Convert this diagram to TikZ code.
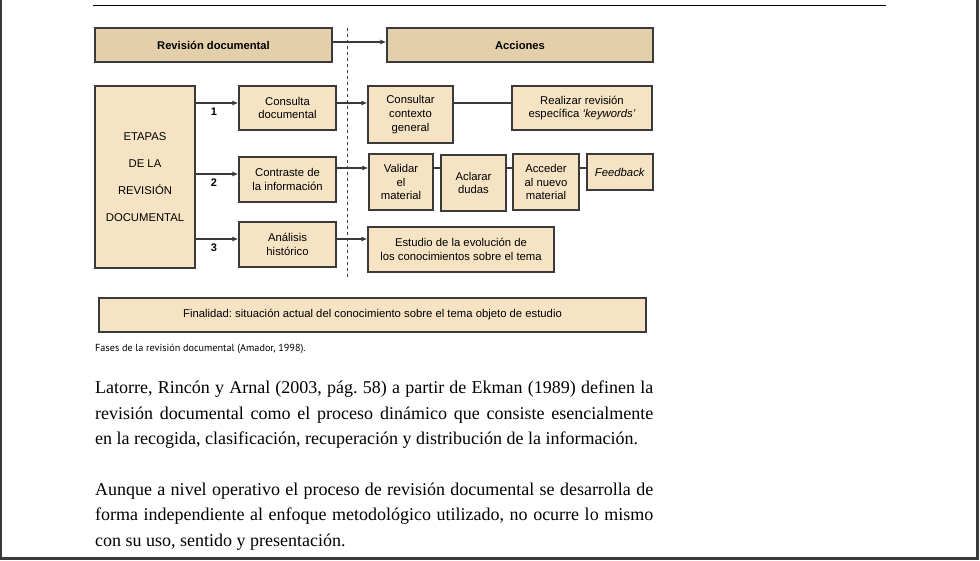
\documentclass[tikz,border=0pt]{standalone}
\usepackage{fontspec}
\setmainfont{Liberation Serif}
\newfontfamily\diagfont{Liberation Sans}
\newfontfamily\capfont{PT Sans}
\usetikzlibrary{arrows.meta}
\frenchspacing

\definecolor{borde}{HTML}{3A3A3A}
\definecolor{fondocab}{HTML}{E3CFA9}
\definecolor{fondocaja}{HTML}{F5E3C3}

\tikzset{
  caja/.style={draw=borde, line width=1.2pt, fill=fondocaja, inner sep=0pt, align=center,
    font=\diagfont\fontsize{11.3}{13.6}\selectfont},
  cabecera/.style={caja, fill=fondocab, font=\diagfont\bfseries\fontsize{11.2}{13.6}\selectfont},
  flecha/.style={draw=borde, line width=1.2pt, -{Latex[length=6pt,width=5pt]}},
  linea/.style={draw=borde, line width=1.2pt},
  numero/.style={font=\diagfont\bfseries\fontsize{11}{12}\selectfont},
  parrafo/.style={anchor=base west, inner sep=0pt, font=\fontsize{18}{20}\selectfont}
}

\begin{document}
\begin{tikzpicture}[x=1pt, y=-1pt]
\useasboundingbox (0,0) rectangle (980,560);
\fill[white] (0,0) rectangle (980,560);
% marco de la pagina
\draw[borde, line width=2.5pt] (1,0) -- (1,558.5) -- (977.5,558.5) -- (977.5,0);
\draw[line width=1pt] (93,5) -- (886,5);

% cabeceras
\node[cabecera, minimum width=237pt, minimum height=34pt] (rev) at (213.5,45) {Revisión documental};
\node[cabecera, minimum width=266pt, minimum height=34pt] (acc) at (520,45) {Acciones};
\draw[flecha] ([yshift=3pt]rev.east) -- ([yshift=3pt]acc.west);
\draw[borde, line width=1pt, dashed] (347,28) -- (347,277);

% etapas
\node[caja, minimum width=100pt, minimum height=182pt, font=\diagfont\fontsize{11.3}{27}\selectfont] (etapas) at (145,177)
  {ETAPAS\\DE LA\\REVISIÓN\\DOCUMENTAL};
\node[caja, minimum width=97pt, minimum height=44pt] (consulta) at (287.5,108) {Consulta\\documental};
\node[caja, minimum width=97pt, minimum height=45pt] (contraste) at (287.5,179.5) {Contraste de\\la información};
\node[caja, minimum width=97pt, minimum height=45pt] (analisis) at (287.5,244.5) {Análisis\\histórico};

\draw[flecha] ([yshift=5pt]consulta.west -| etapas.east) -- ([yshift=5pt]consulta.west);
\draw[flecha] ([yshift=5.5pt]contraste.west -| etapas.east) -- ([yshift=5.5pt]contraste.west);
\draw[flecha] ([yshift=5.5pt]analisis.west -| etapas.east) -- ([yshift=5.5pt]analisis.west);
\node[numero] (n1) at (214,112) {1};
\node[numero] (n2) at (214,183) {2};
\node[numero] (n3) at (214,248) {3};

% acciones
\node[caja, minimum width=85pt, minimum height=57pt] (contexto) at (410.5,114.5) {Consultar\\contexto\\general};
\node[caja, minimum width=140pt, minimum height=44pt] (realizar) at (582,108) {Realizar revisión\\específica \textit{‘keywords’}};
\node[caja, minimum width=64pt, minimum height=56pt] (validar) at (401,182) {Validar\\el\\material};
\node[caja, minimum width=65pt, minimum height=56pt] (aclarar) at (473.5,183) {Aclarar\\dudas};
\node[caja, minimum width=66pt, minimum height=56pt] (acceder) at (546,182) {Acceder\\al nuevo\\material};
\node[caja, minimum width=66pt, minimum height=36pt] (feedback) at (620,172) {\textit{Feedback}};
\node[caja, minimum width=186pt, minimum height=45pt] (estudio) at (461,249.5) {Estudio de la evolución de\\los conocimientos sobre el tema};

\draw[flecha] ([yshift=5pt]consulta.east) -- ([yshift=5pt]consulta.east -| contexto.west);
\draw[flecha] ([yshift=11.5pt]contraste.east) -- ([yshift=11.5pt]contraste.east -| validar.west);
\draw[flecha] ([yshift=5.5pt]analisis.east) -- ([yshift=5.5pt]analisis.east -| estudio.west);
\draw[linea] ([yshift=5pt]realizar.west -| contexto.east) -- ([yshift=5pt]realizar.west);
\draw[linea] ([yshift=14pt]validar.east) -- ([yshift=14pt]validar.east -| aclarar.west);
\draw[linea] ([yshift=14pt]validar.east -| aclarar.east) -- ([yshift=14pt]validar.east -| acceder.west);
\draw[linea] ([yshift=14pt]validar.east -| acceder.east) -- ([yshift=14pt]validar.east -| feedback.west);

% finalidad
\node[caja, minimum width=547pt, minimum height=34pt] (finalidad) at (372.5,315)
  {Finalidad: situación actual del conocimiento sobre el tema objeto de estudio};
\node[anchor=base west, inner sep=0pt, font=\capfont\fontsize{10.2}{12}\selectfont] (pie) at (95,351.5)
  {Fases de la revisión documental (Amador, 1998).};

% texto
\node[parrafo] (l1) at (95,393.5) {\makebox[558pt][s]{Latorre, Rincón y Arnal (2003, pág. 58) a partir de Ekman (1989) definen la}};
\node[parrafo] (l2) at (95,419) {\makebox[558pt][s]{revisión documental como el proceso dinámico que consiste esencialmente}};
\node[parrafo] (l3) at (95,444.5) {en la recogida, clasificación, recuperación y distribución de la información.};
\node[parrafo] (l4) at (95,495) {\makebox[558pt][s]{Aunque a nivel operativo el proceso de revisión documental se desarrolla de}};
\node[parrafo] (l5) at (95,520.5) {\makebox[558pt][s]{forma independiente al enfoque metodológico utilizado, no ocurre lo mismo}};
\node[parrafo] (l6) at (95,546) {con su uso, sentido y presentación.};
\end{tikzpicture}
\end{document}
